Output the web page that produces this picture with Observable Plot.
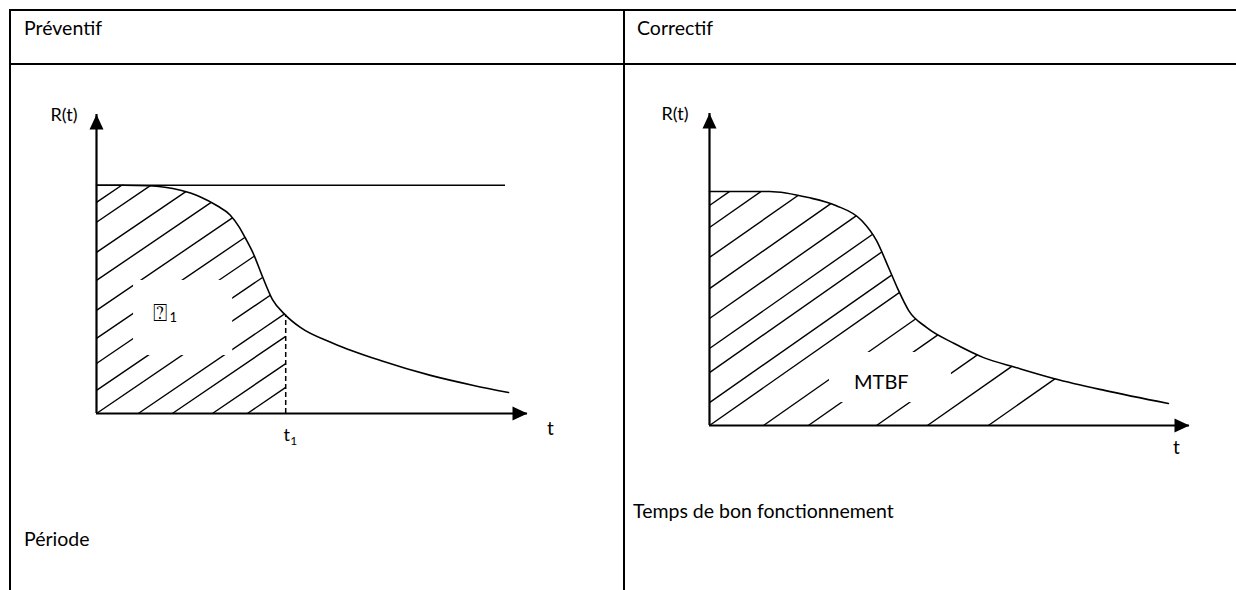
<!DOCTYPE html>
<html><head><meta charset="utf-8">
<script src="https://cdn.jsdelivr.net/npm/d3@7"></script>
<script src="https://cdn.jsdelivr.net/npm/@observablehq/plot@0.6"></script>
<style>
body{margin:0;width:1236px;height:590px;overflow:hidden;background:#fff;position:relative;font-family:Lato,"Open Sans",sans-serif;}
.hl{position:absolute;background:#000;}
.cell{position:absolute;font-size:19.5px;line-height:20px;color:#000;white-space:nowrap;}
.panel{position:absolute;top:66px;}
</style></head><body>
<div class="hl" style="left:9px;top:9px;width:1227px;height:2px"></div>
<div class="hl" style="left:9px;top:63px;width:1227px;height:2px"></div>
<div class="hl" style="left:9px;top:9px;width:2px;height:581px"></div>
<div class="hl" style="left:623px;top:9px;width:2px;height:581px"></div>
<div class="cell" id="h0" style="left:24px;top:18px"></div>
<div class="cell" id="h1" style="left:637px;top:18px"></div>
<div class="cell" id="c0" style="left:24px;top:529px"></div>
<div class="cell" id="c1" style="left:633px;top:501px"></div>
<div class="panel" id="left" style="left:10px"></div>
<div class="panel" id="right" style="left:626px"></div>
<script>
// ---- data ----
const headers = ["Préventif", "Correctif"];
const captions = ["Période", "Temps de bon fonctionnement"];
const axisLabels = ["R(t)", "t"];

// Preventive panel: reliability curve R(t)
const leftT = [0, 0.63, 1.2, 1.95, 2.4, 2.8, 3.1, 3.3, 3.45, 3.64, 3.85, 4.08, 4.39, 4.73, 5.5, 6.59, 7.75, 8.75, 9.56];
const leftR = [1, 1, 0.998, 0.978, 0.95, 0.91, 0.87, 0.82, 0.77, 0.70, 0.60, 0.50, 0.43, 0.377, 0.307, 0.232, 0.167, 0.123, 0.092];
const leftT1 = 4.39;                 // period t1
const leftRefLine = [0, 9.49];       // R = 1 reference line extent
const leftHatchR = [0.925, 0.838, 0.706, 0.583, 0.452, 0.329, 0.219, 0.101, 0]; // hatch starts on R axis
const leftHatchT = [0.97, 1.76, 2.69, 3.5];                                       // hatch starts on t axis
const leftGap = [0.86, 3.16, 0.254, 0.583];   // label clearing box t1,t2,R1,R2
const leftLabel = ["⍰", "1"];
const leftLabelPos = [1.48, 0.44];

// Corrective panel
const rightT = [0, 1.25, 2.06, 2.63, 3.17, 3.48, 3.73, 3.92, 4.15, 4.52, 5.1, 5.71, 6.38, 7.19, 8.23, 9.56];
const rightR = [1, 1, 0.974, 0.94, 0.876, 0.79, 0.675, 0.585, 0.491, 0.419, 0.35, 0.29, 0.248, 0.2, 0.15, 0.094];
const rightHatchR = [0.94, 0.846, 0.718, 0.585, 0.457, 0.329, 0.226, 0.098, 0];
const rightHatchT = [1.125, 2.06, 3.48, 4.54, 5.81];
const rightGap = [2.5, 5.04, 0.098, 0.312];
const rightLabel = ["MTBF"];
const rightLabelPos = [3.58, 0.184];

document.getElementById("h0").textContent = headers[0];
document.getElementById("h1").textContent = headers[1];
document.getElementById("c0").textContent = captions[0];
document.getElementById("c1").textContent = captions[1];

const FONT = "Lato, 'Open Sans', sans-serif";
const arrowUp = {draw(ctx){ctx.moveTo(0,0);ctx.lineTo(7,15);ctx.lineTo(-7,15);ctx.closePath();}};
const arrowRight = {draw(ctx){ctx.moveTo(0,0);ctx.lineTo(-15,-7);ctx.lineTo(-15,7);ctx.closePath();}};

function interp(T, R, t) {
  if (t <= T[0]) return R[0];
  for (let i = 1; i < T.length; i++) if (t <= T[i]) return R[i-1] + (R[i]-R[i-1])*(t-T[i-1])/(T[i]-T[i-1]);
  return R[R.length-1];
}
function hatch(T, R, hr, ht, k, tCut) {
  const starts = hr.map(r => ({t: 0, r})).concat(ht.map(t => ({t, r: 0})));
  const tEnd = T[T.length-1];
  return starts.map(({t, r}) => {
    let tt = t;
    while (tt < tEnd && r + k*(tt - t) < interp(T, R, tt)) tt += 0.004;
    let e = tt + 0.12;
    if (tCut != null) e = Math.min(e, tCut);
    return {x1: t, y1: r, x2: e, y2: r + k*(e - t)};
  });
}

function panel(o) {
  const curve = o.T.map((t, i) => ({t, r: o.R[i]}));
  const segs = hatch(o.T, o.R, o.hr, o.ht, o.k, o.tCut);
  const marks = [
    Plot.link(segs, {x1: "x1", y1: "y1", x2: "x2", y2: "y2", stroke: "black", strokeWidth: 1.4}),
    Plot.areaY(curve, {x: "t", y1: "r", y2: o.rmax, fill: "white", curve: "monotone-x"}),
    Plot.rect([o.gap], {x1: d => d[0], x2: d => d[1], y1: d => d[2], y2: d => d[3], fill: "white"}),
  ];
  if (o.refLine) marks.push(Plot.ruleY([1], {x1: o.refLine[0], x2: o.refLine[1], stroke: "black", strokeWidth: 1.6}));
  marks.push(Plot.line(curve, {x: "t", y: "r", curve: "monotone-x", stroke: "black", strokeWidth: 1.6}));
  if (o.tCut != null) marks.push(Plot.ruleX([o.tCut], {y1: 0, y2: interp(o.T, o.R, o.tCut), stroke: "black", strokeWidth: 1.5, strokeDasharray: "5,3"}));
  marks.push(
    Plot.ruleY([0], {x1: 0, x2: o.tmax, stroke: "black", strokeWidth: 2.2}),
    Plot.ruleX([0], {y1: 0, y2: o.rmax, stroke: "black", strokeWidth: 2.2}),
    Plot.dot([[0, o.rmax]], {x: d => d[0], y: d => d[1], symbol: arrowUp, fill: "black", stroke: null}),
    Plot.dot([[o.tmax, 0]], {x: d => d[0], y: d => d[1], symbol: arrowRight, fill: "black", stroke: null}),
    Plot.text([axisLabels[0]], {x: 0, y: o.rmax, dx: o.rdx, dy: 1, textAnchor: "end", fontSize: 18, fontFamily: FONT}),
    Plot.text([axisLabels[1]], {x: o.tmax, y: 0, dx: o.tdx, dy: o.tdy, fontSize: 19, fontFamily: FONT}),
    ...o.extra
  );
  return Plot.plot({
    width: o.width, height: 524,
    marginLeft: o.ml, marginRight: o.mr, marginTop: o.mt, marginBottom: o.mb,
    x: {domain: [0, o.tmax], axis: null},
    y: {domain: [0, o.rmax], axis: null},
    style: {background: "transparent", overflow: "visible", fontFamily: FONT},
    marks
  });
}

document.getElementById("left").append(panel({
  T: leftT, R: leftR, hr: leftHatchR, ht: leftHatchT, k: 0.1285, tCut: leftT1, refLine: leftRefLine,
  gap: leftGap, tmax: 10, rmax: 1.31, width: 612, ml: 86, mr: 95, mt: 48, mb: 177,
  rdx: -19, tdx: 23, tdy: 15,
  extra: [
    Plot.text([leftLabel[0]], {x: leftLabelPos[0], y: leftLabelPos[1], fontSize: 24, fontFamily: "DejaVu Sans"}),
    Plot.text([leftLabel[1]], {x: leftLabelPos[0], y: leftLabelPos[1], dx: 13, dy: 5, fontSize: 13, fontFamily: FONT}),
    Plot.text(["t"], {x: leftT1, y: 0, dx: 1, dy: 22, fontSize: 18, fontFamily: FONT}),
    Plot.text(["1"], {x: leftT1, y: 0, dx: 8, dy: 28, fontSize: 12, fontFamily: FONT})
  ]
}));

document.getElementById("right").append(panel({
  T: rightT, R: rightR, hr: rightHatchR, ht: rightHatchT, k: 0.1436, tCut: null, refLine: null,
  gap: rightGap, tmax: 10, rmax: 1.333, width: 610, ml: 83, mr: 47, mt: 47, mb: 165,
  rdx: -21, tdx: -13, tdy: 22,
  extra: [
    Plot.text([rightLabel[0]], {x: rightLabelPos[0], y: rightLabelPos[1], fontSize: 20, fontFamily: FONT})
  ]
}));
</script>
</body></html>
